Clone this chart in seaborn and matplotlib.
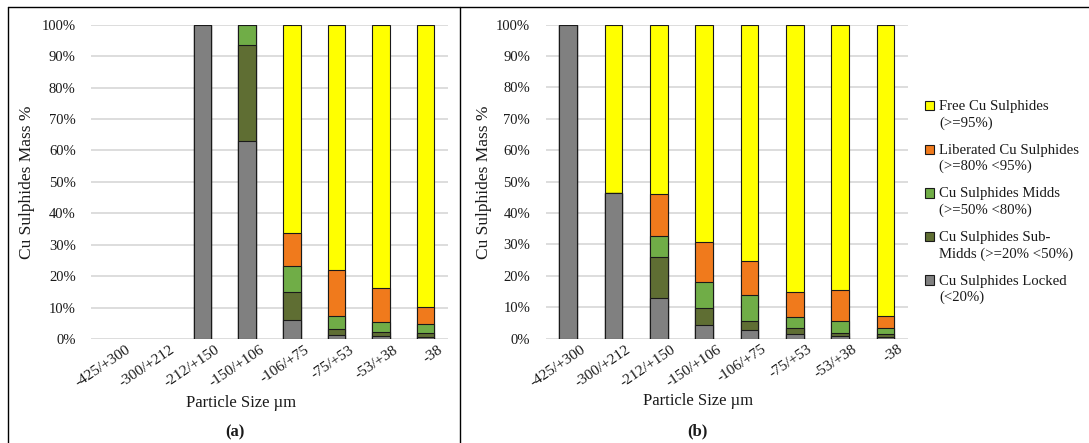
import numpy as np
import pandas as pd
import seaborn as sns
import matplotlib
matplotlib.use("Agg")
import matplotlib.pyplot as plt
from matplotlib.patches import Patch, Rectangle
from matplotlib.legend_handler import HandlerPatch
from matplotlib.transforms import ScaledTranslation
from matplotlib.ticker import PercentFormatter, MultipleLocator
from matplotlib.lines import Line2D

# ---------------- data ----------------
sizes = ["-425/+300", "-300/+212", "-212/+150", "-150/+106",
         "-106/+75", "-75/+53", "-53/+38", "-38"]
series = ["Cu Sulphides Locked", "Cu Sulphides Sub-Midds", "Cu Sulphides Midds",
          "Liberated Cu Sulphides", "Free Cu Sulphides"]
legend_labels = ["Cu Sulphides Locked\n(<20%)",
                 "Cu Sulphides Sub-\nMidds (>=20% <50%)",
                 "Cu Sulphides Midds\n(>=50% <80%)",
                 "Liberated Cu Sulphides\n(>=80% <95%)",
                 "Free Cu Sulphides\n(>=95%)"]
colors = ["#808080", "#5F6E33", "#70AD47", "#F07A1C", "#FFFF00"]

nan = np.nan
# panel (a)
a_locked = [nan, nan, 100.0, 63.1, 6.2, 1.3, 0.9, 0.5]
a_sub    = [nan, nan, 0.0, 30.4, 8.9, 1.9, 1.4, 1.4]
a_midds  = [nan, nan, 0.0, 6.5, 8.1, 4.0, 3.2, 2.8]
a_lib    = [nan, nan, 0.0, 0.0, 10.6, 14.8, 10.6, 5.5]
a_free   = [nan, nan, 0.0, 0.0, 66.2, 78.0, 83.9, 89.8]
# panel (b)
b_locked = [100.0, 46.3, 12.8, 4.3, 2.6, 1.5, 0.9, 0.5]
b_sub    = [0.0, 0.0, 13.3, 5.3, 2.9, 1.8, 1.0, 0.8]
b_midds  = [0.0, 0.0, 6.5, 8.5, 8.3, 3.7, 3.6, 1.9]
b_lib    = [0.0, 0.0, 13.3, 12.5, 11.0, 7.8, 10.0, 4.0]
b_free   = [0.0, 53.7, 54.1, 69.4, 75.2, 85.2, 84.5, 92.8]

y_label = "Cu Sulphides Mass %"
x_label = "Particle Size \u00b5m"
captions = ["(a)", "(b)"]

# ---------------- style ----------------
sns.set_style("white")
plt.rcParams["font.family"] = ["Liberation Serif", "DejaVu Serif"]
TXT = "#1a1a1a"
FS_Y = 10.5     # y tick labels
FS_X = 11       # x tick labels
FS_T = 12.5     # axis titles
FS_L = 10.6     # legend

W, H = 1089, 443
fig = plt.figure(figsize=(W / 100, H / 100), dpi=100)


def fx(px):
    return px / W


def fy(py):
    return 1 - py / H


def make_df(vals):
    arr = np.array(vals, dtype=float)
    cum = np.cumsum(arr, axis=0)
    rows = []
    for si, s in enumerate(series):
        for ci, c in enumerate(sizes):
            rows.append({"size": c, "series": s, "cum": cum[si, ci]})
    return pd.DataFrame(rows)


def draw(ax, df):
    for si in range(len(series) - 1, -1, -1):
        sub = df[df["series"] == series[si]]
        sns.barplot(data=sub, x="size", y="cum", order=sizes, color=colors[si],
                    saturation=1, width=0.39, edgecolor="#1a1a1a", linewidth=0.8,
                    errorbar=None, ax=ax, zorder=3)
    ax.set_xlim(-0.5, len(sizes) - 0.5)
    ax.set_ylim(0, 100)
    ax.yaxis.set_major_locator(MultipleLocator(10))
    ax.yaxis.set_major_formatter(PercentFormatter(decimals=0))
    ax.grid(axis="y", color="#dadada", linewidth=1.3, zorder=0)
    ax.grid(axis="x", visible=False)
    ax.set_axisbelow(True)
    for sp in ax.spines.values():
        sp.set_visible(False)
    ax.tick_params(axis="both", length=0, colors=TXT)
    ax.tick_params(axis="y", pad=11, labelsize=FS_Y)
    ax.tick_params(axis="x", pad=3, labelsize=FS_X)
    ax.set_xlabel("")
    ax.set_ylabel("")
    for lab in ax.get_xticklabels():
        lab.set_rotation(34)
        lab.set_rotation_mode("anchor")
        lab.set_ha("right")
        lab.set_va("top")
        lab.set_transform(lab.get_transform() +
                          ScaledTranslation(12 / 100, 0, fig.dpi_scale_trans))


# axes geometry (pixels)
axL = fig.add_axes([fx(91), fy(339), fx(448 - 91), (339 - 24.7) / H])
axR = fig.add_axes([fx(545.5), fy(338.5), fx(908 - 545.5), (338.5 - 24.7) / H])

draw(axL, make_df([a_locked, a_sub, a_midds, a_lib, a_free]))
draw(axR, make_df([b_locked, b_sub, b_midds, b_lib, b_free]))

# axis titles and captions
fig.text(fx(27), fy(182), y_label, rotation=90, ha="center", va="center", fontsize=FS_T, color=TXT)
fig.text(fx(484), fy(182), y_label, rotation=90, ha="center", va="center", fontsize=FS_T, color=TXT)
fig.text(fx(241), fy(403), x_label, ha="center", va="center", fontsize=12, color=TXT)
fig.text(fx(698), fy(401), x_label, ha="center", va="center", fontsize=12, color=TXT)
fig.text(fx(235), fy(432), captions[0], ha="center", va="center", fontsize=12, fontweight="bold", color=TXT)
fig.text(fx(697), fy(431), captions[1], ha="center", va="center", fontsize=12, fontweight="bold", color=TXT)


# legend (top entry first), marker aligned with first line
class FirstLineHandler(HandlerPatch):
    def create_artists(self, legend, orig_handle, xdescent, ydescent, width, height, fontsize, trans):
        shift = fontsize * 0.62
        p = Rectangle((-xdescent, -ydescent + shift), width, height,
                      facecolor=orig_handle.get_facecolor(), edgecolor="#1a1a1a", linewidth=0.8)
        p.set_transform(trans)
        return [p]


handles = [Patch(facecolor=colors[i], edgecolor="#1a1a1a", linewidth=0.8) for i in range(len(series) - 1, -1, -1)]
labels = [legend_labels[i] for i in range(len(series) - 1, -1, -1)]
leg = fig.legend(handles, labels, loc="upper left", bbox_to_anchor=(fx(912), fy(87)),
                 frameon=False, fontsize=FS_L, handlelength=0.6, handleheight=0.6,
                 handletextpad=0.35, labelspacing=0.95,
                 handler_map={Patch: FirstLineHandler()})
for t in leg.get_texts():
    t.set_linespacing(1.3)
    t.set_color(TXT)

# frame lines of the composite figure
for (x0, y0, x1, y1) in [(8, 7, W, 7), (8, 7, 8, H), (460, 7, 460, H)]:
    fig.add_artist(Line2D([fx(x0), fx(x1)], [fy(y0), fy(y1)], transform=fig.transFigure,
                          color="black", linewidth=1.0))

fig.savefig("out.png", dpi=100)
